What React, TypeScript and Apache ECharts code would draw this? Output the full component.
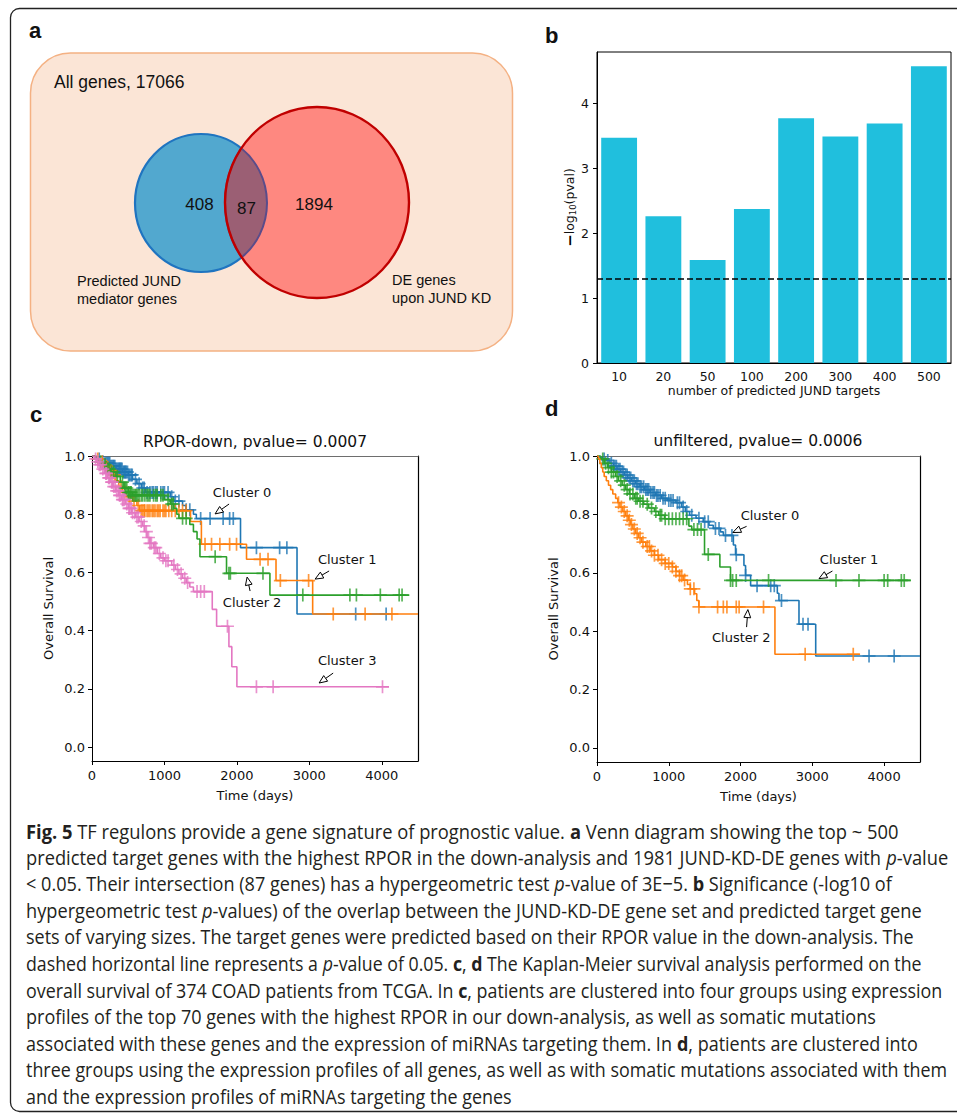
import React, { useEffect, useRef } from "react";
import * as echarts from "echarts";

// ---------- Panel a (Venn) ----------
const VENN_ALL_GENES = 17066;
const VENN_LEFT_ONLY = 408;
const VENN_BOTH = 87;
const VENN_RIGHT_ONLY = 1894;

// ---------- Panel b (bars) ----------
const B_CATEGORIES = ["10", "20", "50", "100", "200", "300", "400", "500"];
const B_VALUES = [3.47, 2.26, 1.585, 2.37, 3.77, 3.49, 3.69, 4.57];
const B_PVAL_THRESHOLD = 0.05;
const B_Y_TICKS = [0, 1, 2, 3, 4];

// ---------- Panel c (KM, RPOR-down) : [time, survival after drop] ----------
const C0_STEPS: [number, number][] = [
  [0, 1], [60, 0.99], [120, 0.98], [180, 0.975], [250, 0.965], [330, 0.955], [420, 0.945],
  [500, 0.935], [560, 0.92], [620, 0.905], [680, 0.89], [740, 0.875], [1080, 0.86], [1130, 0.845],
  [1250, 0.83], [1300, 0.815], [1400, 0.8], [1440, 0.785], [2050, 0.685], [2830, 0.457], [4100, 0.457],
];
const C0_CENSOR = [100, 150, 180, 200, 215, 230, 245, 260, 275, 290, 300, 315, 330, 345, 360, 375, 380, 395,
  400, 415, 430, 445, 450, 465, 470, 490, 505, 520, 540, 555, 600, 650, 700, 720, 760, 800, 830, 850, 880, 900,
  950, 980, 1000, 1050, 1100, 1150, 1200, 1300, 1350, 1500, 1630, 1810, 1900, 1950, 2270, 2590, 2690, 3640, 4060];

const C1_STEPS: [number, number][] = [
  [0, 1], [50, 0.99], [100, 0.98], [160, 0.965], [230, 0.95], [290, 0.935], [330, 0.915], [370, 0.895],
  [420, 0.875], [470, 0.86], [560, 0.845], [620, 0.83], [660, 0.812], [1360, 0.775], [1510, 0.697],
  [2133, 0.645], [2540, 0.572], [3046, 0.457], [4500, 0.457],
];
const C1_CENSOR = [80, 140, 200, 260, 310, 400, 450, 520, 580, 640, 680, 700, 720, 730, 760, 780, 800, 830, 850,
  870, 900, 920, 940, 980, 1000, 1020, 1060, 1100, 1150, 1200, 1250, 1300, 1560, 1650, 1765, 1900, 1995, 2320,
  2430, 2600, 2990, 3330, 3770, 4140];

const C2_STEPS: [number, number][] = [
  [0, 1], [40, 0.99], [90, 0.98], [150, 0.97], [200, 0.955], [260, 0.945], [330, 0.93], [390, 0.91],
  [440, 0.89], [500, 0.875], [560, 0.865], [1000, 0.85], [1080, 0.835], [1130, 0.82], [1170, 0.8],
  [1200, 0.786], [1350, 0.765], [1400, 0.74], [1450, 0.715], [1490, 0.654], [1857, 0.597], [2456, 0.522],
  [4380, 0.522],
];
const C2_CENSOR = [120, 180, 220, 240, 270, 300, 350, 420, 450, 460, 480, 500, 510, 530, 540, 560, 580, 600, 610,
  630, 650, 680, 700, 730, 760, 780, 800, 850, 880, 900, 950, 980, 1050, 1100, 1120, 1250, 1300, 1700, 1890,
  1910, 2360, 2910, 3560, 3650, 3980, 4240, 4280];

const C3_STEPS: [number, number][] = [
  [0, 1], [30, 0.99], [60, 0.98], [90, 0.97], [130, 0.955], [170, 0.94], [210, 0.925], [250, 0.91],
  [290, 0.895], [330, 0.88], [370, 0.865], [410, 0.85], [460, 0.835], [500, 0.82], [550, 0.805],
  [600, 0.79], [650, 0.775], [700, 0.76], [730, 0.74], [760, 0.72], [800, 0.7], [850, 0.685], [900, 0.665],
  [950, 0.65], [1000, 0.64], [1100, 0.625], [1150, 0.61], [1200, 0.595], [1250, 0.58], [1300, 0.565],
  [1350, 0.55], [1400, 0.534], [1660, 0.473], [1720, 0.415], [1890, 0.345], [1930, 0.276], [2000, 0.207],
  [4100, 0.207],
];
const C3_CENSOR = [50, 80, 100, 120, 150, 190, 200, 230, 240, 270, 280, 300, 320, 340, 360, 380, 390, 420, 430,
  450, 480, 510, 520, 540, 560, 590, 620, 640, 680, 720, 750, 780, 800, 820, 860, 880, 930, 980, 1020, 1050,
  1130, 1180, 1230, 1280, 1320, 1450, 1500, 1550, 1870, 2270, 2500, 4010];

// ---------- Panel d (KM, unfiltered) ----------
const D0_STEPS: [number, number][] = [
  [0, 1], [40, 0.995], [80, 0.99], [130, 0.985], [180, 0.975], [230, 0.965], [280, 0.955], [330, 0.945],
  [380, 0.935], [430, 0.925], [480, 0.915], [540, 0.905], [600, 0.895], [660, 0.885], [740, 0.875],
  [820, 0.865], [900, 0.855], [980, 0.848], [1100, 0.84], [1180, 0.825], [1230, 0.81], [1290, 0.797],
  [1380, 0.787], [1480, 0.775], [1560, 0.763], [1620, 0.752], [1720, 0.74], [1760, 0.728], [1900, 0.695],
  [1930, 0.662], [2047, 0.625], [2070, 0.591], [2140, 0.556], [2512, 0.53], [2535, 0.505], [2814, 0.424],
  [3047, 0.315], [4500, 0.315],
];
const D0_CENSOR = [100, 150, 200, 230, 250, 270, 300, 320, 350, 370, 400, 420, 450, 470, 500, 520, 550, 570, 600,
  620, 650, 680, 700, 720, 750, 780, 800, 830, 850, 880, 920, 950, 1000, 1030, 1060, 1120, 1150, 1200, 1250,
  1320, 1420, 1500, 1550, 1650, 1700, 1790, 1880, 1940, 2070, 2230, 2420, 2470, 2570, 2870, 2940, 3790, 4140];

const D1_STEPS: [number, number][] = [
  [0, 1], [50, 0.99], [100, 0.975], [150, 0.96], [200, 0.945], [260, 0.93], [300, 0.915], [350, 0.9],
  [400, 0.885], [450, 0.87], [520, 0.855], [580, 0.845], [650, 0.835], [720, 0.822], [800, 0.81],
  [860, 0.797], [940, 0.785], [1280, 0.76], [1320, 0.748], [1498, 0.663], [1712, 0.62], [1860, 0.574],
  [4372, 0.574],
];
const D1_CENSOR = [80, 120, 160, 200, 230, 280, 330, 380, 420, 460, 500, 540, 560, 600, 640, 700, 760, 820, 880,
  900, 950, 1000, 1050, 1100, 1150, 1200, 1250, 1350, 1400, 1450, 1550, 1860, 1890, 1940, 2390, 3330, 3650,
  4000, 4050, 4240, 4280];

const D2_STEPS: [number, number][] = [
  [0, 1], [20, 0.99], [40, 0.975], [60, 0.96], [80, 0.945], [100, 0.93], [130, 0.915], [160, 0.9],
  [190, 0.885], [220, 0.87], [260, 0.855], [290, 0.84], [320, 0.825], [360, 0.81], [400, 0.795],
  [440, 0.78], [470, 0.765], [500, 0.75], [540, 0.735], [580, 0.72], [620, 0.705], [680, 0.69],
  [740, 0.675], [800, 0.66], [860, 0.645], [950, 0.632], [1050, 0.62], [1100, 0.605], [1150, 0.59],
  [1200, 0.575], [1260, 0.56], [1300, 0.545], [1360, 0.528], [1390, 0.505], [1419, 0.483], [2479, 0.321],
  [3665, 0.321],
];
const D2_CENSOR = [300, 340, 380, 420, 450, 480, 520, 560, 600, 640, 700, 730, 760, 800, 850, 900, 950, 1000,
  1050, 1100, 1150, 1180, 1220, 1300, 1350, 1420, 1680, 1760, 1810, 1940, 1980, 2320, 2900, 3570];

// annotations in data units: label centre, arrow tail, arrow tip
const C_ANNOTATIONS = [
  { label: "Cluster 0", text: [2072, 0.876], tail: [1892, 0.835], tip: [1699, 0.801] },
  { label: "Cluster 1", text: [3522, 0.646], tail: [3273, 0.605], tip: [3080, 0.577] },
  { label: "Cluster 2", text: [2210, 0.498], tail: [2182, 0.536], tip: [2141, 0.584] },
  { label: "Cluster 3", text: [3522, 0.296], tail: [3329, 0.254], tip: [3135, 0.22] },
];
const D_ANNOTATIONS = [
  { label: "Cluster 0", text: [2409, 0.797], tail: [2084, 0.759], tip: [1893, 0.738] },
  { label: "Cluster 1", text: [3512, 0.646], tail: [3280, 0.606], tip: [3093, 0.58] },
  { label: "Cluster 2", text: [2010, 0.377], tail: [2084, 0.414], tip: [2102, 0.474] },
];

const Y_TICKS = [0, 0.2, 0.4, 0.6, 0.8, 1.0];

const CAPTION_LINES = [
  "{b|Fig. 5} TF regulons provide a gene signature of prognostic value. {b|a} Venn diagram showing the top ~ 500",
  "predicted target genes with the highest RPOR in the down-analysis and 1981 JUND-KD-DE genes with {i|p}-value",
  "< 0.05. Their intersection (87 genes) has a hypergeometric test {i|p}-value of 3E\u22125. {b|b} Significance (-log10 of",
  "hypergeometric test {i|p}-values) of the overlap between the JUND-KD-DE gene set and predicted target gene",
  "sets of varying sizes. The target genes were predicted based on their RPOR value in the down-analysis. The",
  "dashed horizontal line represents a {i|p}-value of 0.05. {b|c}, {b|d} The Kaplan-Meier survival analysis performed on the",
  "overall survival of 374 COAD patients from TCGA. In {b|c}, patients are clustered into four groups using expression",
  "profiles of the top 70 genes with the highest RPOR in our down-analysis, as well as somatic mutations",
  "associated with these genes and the expression of miRNAs targeting them. In {b|d}, patients are clustered into",
  "three groups using the expression profiles of all genes, as well as with somatic mutations associated with them",
  "and the expression profiles of miRNAs targeting the genes",
];
// right end (px) of each caption line in the reference layout
const CAPTION_LINE_ENDS = [899, 948, 892, 922, 914, 922, 942, 876, 918, 948, 512];

const MPL_FONT = "DejaVu Sans";
const ARIAL = "Liberation Sans, Arial, sans-serif";
const CAPTION_FONT = "Open Sans";
const PLUS = "path://M4.35,0h1.3v4.35h4.35v1.3h-4.35v4.35h-1.3v-4.35h-4.35v-1.3h4.35z";

// Venn geometry
const BLUE = { cx: 201, cy: 203, rx: 66, ry: 69 };
const RED = { cx: 317, cy: 202.5, rx: 92, ry: 95.5 };

function lensPath(): string {
  const f = (th: number) => {
    const x = BLUE.cx + BLUE.rx * Math.cos(th);
    const y = BLUE.cy + BLUE.ry * Math.sin(th);
    return ((x - RED.cx) / RED.rx) ** 2 + ((y - RED.cy) / RED.ry) ** 2 - 1;
  };
  const roots: [number, number][] = [];
  const N = 4000;
  for (let i = 0; i < N; i++) {
    const a = -Math.PI + (2 * Math.PI * i) / N;
    const b = -Math.PI + (2 * Math.PI * (i + 1)) / N;
    if (f(a) * f(b) <= 0) {
      let lo = a, hi = b;
      for (let k = 0; k < 40; k++) {
        const m = (lo + hi) / 2;
        if (f(lo) * f(m) <= 0) hi = m; else lo = m;
      }
      const th = (lo + hi) / 2;
      roots.push([BLUE.cx + BLUE.rx * Math.cos(th), BLUE.cy + BLUE.ry * Math.sin(th)]);
    }
  }
  roots.sort((p, q) => p[1] - q[1]);
  const top = roots[0];
  const bot = roots[roots.length - 1];
  return `M${top[0]},${top[1]} A${BLUE.rx},${BLUE.ry} 0 0 1 ${bot[0]},${bot[1]} A${RED.rx},${RED.ry} 0 0 1 ${top[0]},${top[1]} Z`;
}

echarts.graphic.registerShape("vennLens", echarts.graphic.extendPath(lensPath(), {}));

function survAt(steps: [number, number][], t: number): number {
  let s = 1;
  for (const [tt, ss] of steps) {
    if (tt <= t) s = ss; else break;
  }
  return s;
}

function kmSeries(steps: [number, number][], censor: number[], color: string, axis: number, z: number) {
  return [
    {
      type: "line", xAxisIndex: axis, yAxisIndex: axis, step: "end", data: steps,
      showSymbol: false, symbol: "none", lineStyle: { color, width: 1.6 }, itemStyle: { color }, z,
      silent: true,
    },
    {
      type: "scatter", xAxisIndex: axis, yAxisIndex: axis,
      data: censor.map((t) => [t, survAt(steps, t)]),
      symbol: PLUS, symbolSize: 13, itemStyle: { color, opacity: 0.8 }, z, silent: true,
    },
  ];
}

function arrowEls(tail: number[], tip: number[]) {
  const dx = tip[0] - tail[0], dy = tip[1] - tail[1];
  const L = Math.hypot(dx, dy) || 1;
  const ux = dx / L, uy = dy / L;
  const hl = 8, hw = 3.4;
  const bx = tip[0] - ux * hl, by = tip[1] - uy * hl;
  return [
    { type: "line", shape: { x1: tail[0], y1: tail[1], x2: bx, y2: by }, style: { stroke: "#000", lineWidth: 1 }, z: 100 },
    {
      type: "polygon",
      shape: { points: [[tip[0], tip[1]], [bx - uy * hw, by + ux * hw], [bx + uy * hw, by - ux * hw]] },
      style: { fill: "#fff", stroke: "#000", lineWidth: 1 }, z: 100,
    },
  ];
}

const kmYAxisLeft = (grid: number) => ({
  type: "value", gridIndex: grid, min: -0.048, max: 1, position: "left",
  name: "Overall Survival", nameLocation: "middle", nameGap: 37,
  nameTextStyle: { fontFamily: MPL_FONT, fontSize: 13, color: "#111" },
  axisLine: { show: true, onZero: false, lineStyle: { color: "#000", width: 1 } },
  axisTick: { show: true, length: 4, lineStyle: { color: "#000" }, customValues: Y_TICKS },
  axisLabel: {
    fontFamily: MPL_FONT, fontSize: 13, color: "#111", margin: 7, customValues: Y_TICKS,
    formatter: (v: number) => v.toFixed(1),
  },
  splitLine: { show: false },
});
const kmYAxisRight = (grid: number) => ({
  type: "value", gridIndex: grid, min: -0.048, max: 1, position: "right",
  axisLine: { show: true, onZero: false, lineStyle: { color: "#000", width: 1.2 } },
  axisTick: { show: false }, axisLabel: { show: false }, splitLine: { show: false },
});
const kmXAxisBottom = (grid: number) => ({
  type: "value", gridIndex: grid, min: 0, max: 4500, interval: 1000, position: "bottom",
  name: "Time (days)", nameLocation: "middle", nameGap: 28,
  nameTextStyle: { fontFamily: MPL_FONT, fontSize: 13, color: "#111" },
  axisLine: { show: true, onZero: false, lineStyle: { color: "#000", width: 1 } },
  axisTick: { show: true, length: 4, lineStyle: { color: "#000" } },
  axisLabel: {
    fontFamily: MPL_FONT, fontSize: 13, color: "#111", margin: 8, showMaxLabel: false,
    formatter: (v: number) => String(v),
  },
  splitLine: { show: false },
});
const kmXAxisTop = (grid: number) => ({
  type: "value", gridIndex: grid, min: 0, max: 4500, position: "top",
  axisLine: { show: true, onZero: false, lineStyle: { color: "#6e6e6e", width: 1.2 } },
  axisTick: { show: false }, axisLabel: { show: false }, splitLine: { show: false },
});

function measureCaptionLine(ctx: CanvasRenderingContext2D, line: string): number {
  let w = 0;
  const re = /\{([bi])\|([^}]*)\}/g;
  let last = 0;
  let m: RegExpExecArray | null;
  const normal = `20px "${CAPTION_FONT}"`;
  while ((m = re.exec(line))) {
    ctx.font = normal;
    w += ctx.measureText(line.slice(last, m.index)).width;
    ctx.font = m[1] === "b" ? `bold 20px "${CAPTION_FONT}"` : `italic 20px "${CAPTION_FONT}"`;
    w += ctx.measureText(m[2]).width;
    last = m.index + m[0].length;
  }
  ctx.font = normal;
  w += ctx.measureText(line.slice(last)).width;
  return w;
}

export default function App() {
  const ref = useRef<HTMLDivElement>(null);
  useEffect(() => {
    if (!ref.current) return;
    const chart = echarts.init(ref.current, undefined, { renderer: "svg" });
    const C_COLORS = ["#1f77b4", "#ff7f0e", "#2ca02c", "#e377c2"];
    const thresholdY = -Math.log10(B_PVAL_THRESHOLD);

    const option: any = {
      animation: false,
      backgroundColor: "#fff",
      grid: [
        { left: 597, top: 52, width: 354, height: 311, show: true, borderColor: "#000", borderWidth: 1 },
        { left: 92, top: 456, width: 326, height: 305 },
        { left: 597, top: 456, width: 323, height: 306 },
      ],
      xAxis: [
        {
          type: "category", gridIndex: 0, data: B_CATEGORIES,
          name: "number of predicted JUND targets", nameLocation: "middle", nameGap: 21,
          nameTextStyle: { fontFamily: MPL_FONT, fontSize: 12.5, color: "#111" },
          axisLine: { lineStyle: { color: "#000" } },
          axisTick: { alignWithLabel: true, length: 4, lineStyle: { color: "#000" } },
          axisLabel: { fontFamily: MPL_FONT, fontSize: 12.5, color: "#111", margin: 7 },
        },
        kmXAxisBottom(1), kmXAxisTop(1), kmXAxisBottom(2), kmXAxisTop(2),
      ],
      yAxis: [
        {
          type: "value", gridIndex: 0, min: 0, max: 4.79,
          name: "{m|\u2212}{t|log}{s|10}{t|(pval)}", nameLocation: "middle", nameGap: 10,
          nameTextStyle: {
            rich: {
              m: { fontFamily: MPL_FONT, fontSize: 15, fontWeight: "bold", color: "#000" },
              t: { fontFamily: MPL_FONT, fontSize: 12.5, color: "#111" },
              s: { fontFamily: MPL_FONT, fontSize: 8.5, color: "#111", verticalAlign: "bottom" },
            },
          },
          axisLine: { show: true, onZero: false, lineStyle: { color: "#000" } },
          axisTick: { show: true, length: 4, lineStyle: { color: "#000" }, customValues: B_Y_TICKS },
          axisLabel: { fontFamily: MPL_FONT, fontSize: 12.5, color: "#111", margin: 8, customValues: B_Y_TICKS },
          splitLine: { show: false },
        },
        kmYAxisLeft(1), kmYAxisRight(1), kmYAxisLeft(2), kmYAxisRight(2),
      ],
      series: [
        {
          type: "bar", xAxisIndex: 0, yAxisIndex: 0, data: B_VALUES, barWidth: "81%",
          itemStyle: { color: "#20bfdd" }, silent: true,
          markLine: {
            silent: true, symbol: ["none", "none"], label: { show: false },
            lineStyle: { color: "#000", type: [6, 3], width: 1.6 },
            data: [{ yAxis: thresholdY }],
          },
        },
        ...kmSeries(C0_STEPS, C0_CENSOR, C_COLORS[0], 1, 2),
        ...kmSeries(C1_STEPS, C1_CENSOR, C_COLORS[1], 1, 3),
        ...kmSeries(C2_STEPS, C2_CENSOR, C_COLORS[2], 1, 4),
        ...kmSeries(C3_STEPS, C3_CENSOR, C_COLORS[3], 1, 5),
        ...kmSeries(D0_STEPS, D0_CENSOR, "#1f77b4", 3, 2),
        ...kmSeries(D1_STEPS, D1_CENSOR, "#2ca02c", 3, 3),
        ...kmSeries(D2_STEPS, D2_CENSOR, "#ff7f0e", 3, 4),
      ],
    };
    chart.setOption(option);

    // caption per-line horizontal scale
    const capLeft = 26;
    const scales: number[] = CAPTION_LINES.map(() => 0.8);
    try {
      const cv = document.createElement("canvas");
      const ctx = cv.getContext("2d");
      if (ctx) {
        CAPTION_LINES.forEach((line, i) => {
          const w = measureCaptionLine(ctx, line);
          if (w > 0) scales[i] = (CAPTION_LINE_ENDS[i] - capLeft) / w;
        });
      }
    } catch (e) { /* keep default */ }

    const graphics: any[] = [];
    graphics.push({
      type: "rect", shape: { x: 10.5, y: 8.5, width: 970, height: 1103, r: 9 },
      style: { fill: "none", stroke: "#222", lineWidth: 1.3 }, z: 1,
    });
    const letter = (t: string, x: number, y: number) => ({
      type: "text", x, y, z: 50,
      style: { text: t, fontFamily: ARIAL, fontWeight: "bold", fontSize: 22, fill: "#111", textVerticalAlign: "bottom" },
    });
    graphics.push(letter("a", 29, 41), letter("b", 545, 46), letter("c", 30, 425), letter("d", 545, 419));

    // Venn
    graphics.push({
      type: "rect", shape: { x: 30.5, y: 53, width: 482, height: 298, r: 40 },
      style: { fill: "#fbe5d6", stroke: "#f4b183", lineWidth: 1.5 }, z: 2,
    });
    graphics.push({
      type: "text", x: 54, y: 82, z: 10,
      style: { text: `All genes, ${VENN_ALL_GENES}`, fontFamily: ARIAL, fontSize: 17.5, fill: "#111", textVerticalAlign: "middle" },
    });
    graphics.push({
      type: "ellipse", shape: { cx: BLUE.cx, cy: BLUE.cy, rx: BLUE.rx, ry: BLUE.ry },
      style: { fill: "#52a8cf", stroke: "#1f74c0", lineWidth: 2.2 }, z: 3,
    });
    graphics.push({
      type: "ellipse", shape: { cx: RED.cx, cy: RED.cy, rx: RED.rx, ry: RED.ry },
      style: { fill: "#fe8880", stroke: "none" }, z: 4,
    });
    graphics.push({
      type: "vennLens", x: 0, y: 0, style: { fill: "#9b5f74", stroke: "#5a4c8a", lineWidth: 2 }, z: 5,
    });
    graphics.push({
      type: "ellipse", shape: { cx: RED.cx, cy: RED.cy, rx: RED.rx, ry: RED.ry },
      style: { fill: "none", stroke: "#c00000", lineWidth: 2.4 }, z: 6,
    });
    const vnum = (t: string | number, x: number, y: number) => ({
      type: "text", x, y, z: 10,
      style: { text: String(t), fontFamily: ARIAL, fontSize: 17, fill: "#111", textAlign: "center", textVerticalAlign: "middle" },
    });
    graphics.push(vnum(VENN_LEFT_ONLY, 199.5, 204), vnum(VENN_BOTH, 246.5, 208), vnum(VENN_RIGHT_ONLY, 314, 204));
    graphics.push({
      type: "text", x: 77, y: 290, z: 10,
      style: { text: "Predicted JUND\nmediator genes", fontFamily: ARIAL, fontSize: 14.5, lineHeight: 18, fill: "#111", textVerticalAlign: "middle" },
    });
    graphics.push({
      type: "text", x: 392, y: 289, z: 10,
      style: { text: "DE genes\nupon JUND KD", fontFamily: ARIAL, fontSize: 14.5, lineHeight: 18, fill: "#111", textVerticalAlign: "middle" },
    });

    const title = (t: string, x: number, y: number) => ({
      type: "text", x, y, z: 10,
      style: { text: t, fontFamily: MPL_FONT, fontSize: 15.5, fill: "#111", textAlign: "center", textVerticalAlign: "middle" },
    });
    graphics.push(title("RPOR-down, pvalue= 0.0007", 255, 442), title("unfiltered, pvalue= 0.0006", 758, 441));

    const addAnn = (anns: typeof C_ANNOTATIONS, axis: number) => {
      for (const a of anns) {
        const finder = { xAxisIndex: axis, yAxisIndex: axis };
        const tp = chart.convertToPixel(finder, a.text) as number[];
        const tl = chart.convertToPixel(finder, a.tail) as number[];
        const tip = chart.convertToPixel(finder, a.tip) as number[];
        graphics.push({
          type: "text", x: tp[0], y: tp[1], z: 100,
          style: { text: a.label, fontFamily: MPL_FONT, fontSize: 13, fill: "#111", textAlign: "center", textVerticalAlign: "middle" },
        });
        graphics.push(...arrowEls(tl, tip));
      }
    };
    addAnn(C_ANNOTATIONS, 1);
    addAnn(D_ANNOTATIONS, 3);

    const cap0 = 830.7, capStep = 26.6;
    CAPTION_LINES.forEach((line, i) => {
      graphics.push({
        type: "text", x: capLeft, y: cap0 + i * capStep, scaleX: scales[i], z: 10,
        style: {
          text: line, fontFamily: CAPTION_FONT, fontSize: 20, fill: "#231f20", textVerticalAlign: "middle",
          rich: {
            b: { fontFamily: CAPTION_FONT, fontSize: 20, fontWeight: "bold", fill: "#231f20" },
            i: { fontFamily: CAPTION_FONT, fontSize: 20, fontStyle: "italic", fill: "#231f20" },
          },
        },
      });
    });

    chart.setOption({ graphic: graphics });
    return () => chart.dispose();
  }, []);
  return <div ref={ref} style={{ position: "absolute", left: 0, top: 0, width: 957, height: 1115 }} />;
}
